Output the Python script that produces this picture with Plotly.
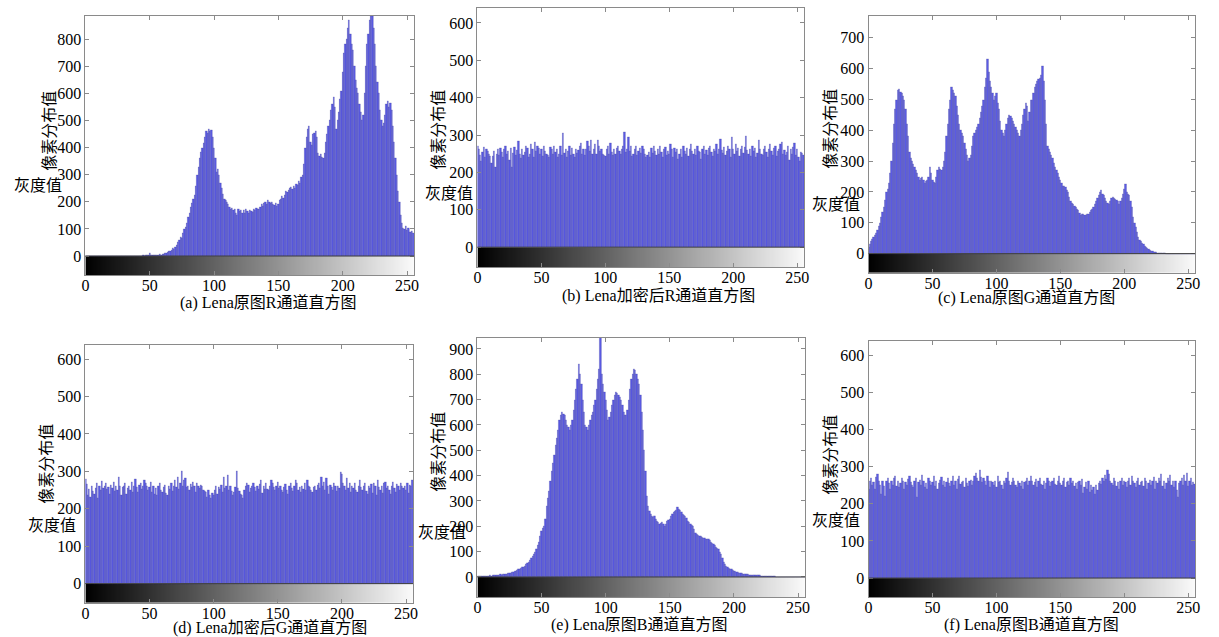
import plotly.graph_objects as go

W, H = 1219, 637

gray_levels = list(range(256))
x_tick_vals = [0, 50, 100, 150, 200, 250]

# (a) original R channel histogram
r_orig = [
    0, 0, 0, 0, 0, 0, 0, 0, 0, 0, 0, 0, 0, 0, 0, 0,
    0, 0, 0, 0, 0, 0, 0, 0, 0, 0, 0, 0, 0, 0, 0, 0,
    0, 0, 0, 0, 0, 1, 0, 0, 1, 0, 1, 1, 0, 2, 1, 2,
    3, 5, 12, 4, 3, 2, 3, 4, 5, 4, 6, 5, 7, 8, 10, 12,
    15, 18, 20, 24, 28, 26, 35, 42, 50, 60, 70, 66, 85, 98, 108, 120,
    145, 160, 180, 195, 210, 225, 260, 300, 330, 360, 385, 400, 415, 440, 460, 455,
    468, 462, 465, 440, 400, 360, 310, 320, 300, 270, 250, 230, 210, 205, 200, 190,
    180, 175, 178, 170, 175, 160, 150, 172, 165, 170, 160, 168, 158, 172, 165, 160,
    170, 165, 162, 175, 168, 178, 172, 175, 180, 190, 185, 195, 200, 192, 205, 198,
    195, 200, 190, 188, 195, 185, 190, 205, 210, 220, 215, 225, 240, 235, 245, 250,
    255, 248, 260, 250, 265, 262, 275, 270, 290, 300, 340, 400, 440, 470, 480, 420,
    410, 450, 455, 460, 440, 380, 370, 375, 365, 360, 380, 420, 450, 480, 500, 540,
    560, 585, 550, 470, 500, 530, 580, 610, 680, 750, 780, 800, 840, 870, 820, 780,
    760, 700, 650, 620, 600, 560, 530, 500, 520, 600, 700, 780, 820, 870, 885, 885,
    840, 780, 700, 640, 600, 540, 500, 480, 490, 520, 560, 570, 550, 565, 540, 480,
    420, 360, 300, 240, 200, 150, 120, 105, 100, 110, 95, 105, 90, 88, 92, 85,
]

# (b) encrypted R channel histogram
r_enc = [
    270, 262, 248, 230, 255, 268, 240, 262, 258, 250, 245, 226, 244, 258, 215, 250,
    262, 248, 266, 255, 240, 262, 270, 250, 258, 232, 266, 214, 252, 268, 246, 260,
    284, 250, 238, 262, 248, 256, 272, 266, 240, 250, 276, 262, 240, 282, 258, 270,
    266, 250, 262, 244, 270, 258, 250, 246, 240, 268, 262, 250, 272, 256, 264, 242,
    250, 270, 248, 305, 252, 262, 240, 258, 270, 246, 266, 250, 240, 262, 252, 260,
    272, 280, 250, 264, 246, 262, 284, 270, 258, 286, 250, 262, 276, 250, 286, 272,
    258, 264, 250, 248, 244, 262, 270, 250, 278, 256, 248, 264, 250, 266, 272, 258,
    250, 262, 270, 308, 254, 262, 296, 258, 272, 244, 250, 262, 270, 246, 258, 266,
    252, 270, 264, 250, 242, 248, 256, 240, 266, 252, 270, 258, 246, 262, 250, 272,
    256, 240, 262, 268, 248, 258, 250, 276, 262, 240, 266, 254, 262, 236, 250, 264,
    242, 270, 258, 250, 266, 244, 262, 276, 258, 250, 264, 246, 270, 258, 254, 236,
    262, 272, 250, 260, 248, 266, 270, 254, 244, 262, 258, 276, 250, 262, 290, 260,
    252, 268, 248, 258, 270, 262, 240, 296, 264, 250, 276, 258, 266, 244, 262, 270,
    252, 268, 298, 260, 250, 262, 244, 270, 258, 266, 240, 252, 288, 262, 250, 246,
    262, 270, 254, 240, 262, 276, 258, 248, 266, 270, 244, 258, 264, 276, 282, 250,
    260, 248, 256, 270, 232, 262, 250, 268, 280, 246, 262, 240, 230, 256, 252, 246,
]

# (c) original G channel histogram
g_orig = [
    20, 30, 40, 48, 55, 60, 68, 75, 88, 100, 118, 135, 150, 175, 200, 210,
    230, 260, 300, 360, 420, 470, 500, 530, 535, 525, 520, 510, 500, 470, 420, 380,
    330, 310, 300, 290, 280, 270, 260, 250, 240, 245, 250, 240, 230, 235, 240, 250,
    280, 260, 240, 232, 230, 250, 270, 280, 275, 270, 280, 300, 330, 380, 420, 470,
    500, 540, 530, 520, 510, 480, 450, 420, 400, 390, 380, 360, 340, 320, 300, 310,
    320, 350, 380, 390, 400, 410, 420, 440, 460, 480, 500, 540, 570, 630, 590, 560,
    540, 520, 500, 510, 520, 490, 470, 430, 400, 390, 380, 400, 420, 440, 450, 445,
    440, 430, 420, 410, 400, 390, 380, 400, 420, 450, 470, 490, 480, 430, 460, 500,
    500, 520, 540, 550, 560, 565, 570, 580, 610, 560, 500, 420, 350, 340, 330, 320,
    310, 295, 280, 270, 260, 250, 240, 230, 220, 218, 215, 205, 200, 185, 170, 165,
    160, 155, 150, 145, 140, 132, 125, 128, 130, 126, 125, 128, 130, 135, 140, 145,
    150, 160, 170, 180, 190, 200, 205, 195, 190, 180, 170, 165, 160, 170, 180, 185,
    180, 178, 175, 170, 160, 170, 180, 195, 210, 225, 200, 195, 190, 170, 150, 120,
    100, 85, 70, 55, 45, 40, 35, 30, 25, 22, 18, 15, 12, 10, 8, 6,
    5, 4, 3, 3, 2, 2, 1, 1, 1, 0, 0, 0, 0, 0, 0, 0,
    0, 0, 0, 0, 0, 0, 0, 0, 0, 0, 0, 0, 0, 0, 0, 0,
]

# (d) encrypted G channel histogram
g_enc = [
    280, 265, 238, 252, 232, 262, 248, 240, 255, 270, 228, 262, 250, 274, 256, 262,
    268, 252, 258, 240, 264, 256, 272, 248, 262, 250, 286, 260, 236, 258, 262, 270,
    240, 256, 262, 250, 272, 246, 262, 280, 258, 244, 264, 270, 252, 260, 276, 270,
    262, 250, 258, 272, 244, 262, 240, 256, 238, 262, 270, 250, 246, 258, 264, 242,
    238, 262, 254, 270, 248, 262, 276, 258, 284, 252, 270, 300, 262, 276, 282, 258,
    262, 250, 266, 258, 272, 262, 244, 268, 262, 256, 264, 260, 250, 248, 244, 232,
    250, 238, 230, 242, 236, 250, 262, 240, 258, 252, 264, 244, 284, 256, 262, 290,
    250, 262, 248, 236, 244, 258, 302, 256, 248, 240, 236, 230, 250, 262, 270, 264,
    244, 256, 262, 270, 258, 248, 262, 252, 266, 276, 242, 262, 252, 268, 254, 250,
    262, 278, 270, 258, 250, 262, 272, 256, 262, 250, 244, 258, 266, 250, 240, 262,
    270, 256, 248, 262, 276, 268, 250, 258, 244, 262, 254, 268, 250, 276, 262, 258,
    250, 244, 258, 262, 250, 264, 268, 256, 286, 262, 272, 250, 282, 262, 240, 264,
    258, 250, 270, 262, 248, 262, 256, 298, 292, 270, 262, 250, 282, 256, 270, 244,
    262, 256, 270, 250, 244, 262, 278, 258, 250, 262, 270, 248, 240, 262, 256, 266,
    242, 270, 262, 236, 276, 258, 250, 262, 242, 270, 272, 256, 262, 250, 240, 262,
    272, 256, 244, 266, 260, 250, 270, 262, 256, 262, 250, 270, 242, 264, 262, 278,
]

# (e) original B channel histogram
b_orig = [
    2, 3, 2, 3, 4, 3, 4, 5, 4, 5, 6, 5, 6, 7, 6, 8,
    8, 9, 10, 9, 10, 12, 11, 13, 14, 15, 16, 18, 20, 22, 25, 28,
    30, 32, 35, 38, 40, 45, 50, 55, 60, 68, 75, 82, 90, 100, 110, 125,
    140, 160, 180, 195, 200, 230, 280, 310, 340, 380, 420, 450, 480, 520, 550, 580,
    620, 640, 650, 645, 640, 620, 600, 590, 580, 600, 620, 660, 700, 740, 780, 840,
    800, 760, 700, 650, 600, 590, 580, 600, 620, 640, 650, 680, 700, 740, 780, 820,
    945, 800, 760, 730, 700, 660, 620, 630, 650, 680, 700, 720, 730, 725, 720, 710,
    700, 680, 650, 640, 640, 660, 700, 740, 780, 800, 820, 815, 800, 780, 760, 720,
    650, 580, 500, 420, 320, 280, 260, 250, 240, 235, 240, 230, 220, 215, 210, 212,
    215, 208, 200, 210, 220, 225, 230, 240, 250, 255, 260, 265, 275, 270, 265, 258,
    250, 245, 240, 232, 220, 215, 210, 205, 200, 190, 175, 170, 165, 162, 160, 158,
    155, 152, 150, 150, 150, 145, 140, 135, 130, 125, 120, 115, 110, 100, 90, 75,
    60, 52, 45, 40, 35, 32, 30, 28, 25, 22, 20, 18, 17, 15, 14, 13,
    12, 11, 10, 10, 9, 9, 8, 8, 7, 7, 6, 6, 6, 5, 5, 5,
    4, 4, 4, 3, 3, 3, 2, 2, 2, 1, 1, 1, 1, 0, 0, 0,
    0, 0, 0, 0, 0, 0, 0, 0, 0, 0, 0, 0, 0, 0, 0, 0,
]

# (f) encrypted B channel histogram
b_enc = [
    240, 262, 268, 250, 258, 240, 272, 280, 262, 250, 226, 262, 248, 220, 262, 270,
    256, 240, 262, 250, 268, 276, 248, 262, 244, 256, 270, 262, 240, 258, 250, 266,
    276, 258, 250, 244, 262, 270, 218, 258, 264, 250, 278, 262, 246, 256, 240, 270,
    262, 250, 258, 276, 248, 262, 240, 256, 264, 272, 250, 262, 246, 258, 270, 256,
    248, 262, 276, 250, 262, 240, 266, 276, 252, 258, 262, 244, 270, 256, 248, 262,
    264, 250, 262, 276, 284, 270, 262, 290, 272, 258, 268, 262, 250, 276, 262, 244,
    262, 258, 250, 262, 244, 276, 258, 262, 250, 240, 262, 256, 270, 286, 262, 250,
    258, 270, 262, 250, 244, 262, 256, 248, 262, 240, 258, 262, 270, 250, 262, 274,
    262, 250, 258, 266, 244, 262, 270, 254, 250, 262, 240, 256, 270, 262, 248, 258,
    262, 270, 254, 250, 262, 274, 256, 250, 262, 268, 244, 258, 262, 250, 270, 256,
    262, 248, 256, 240, 258, 262, 250, 266, 230, 246, 258, 240, 262, 232, 250, 238,
    244, 226, 250, 238, 256, 262, 252, 270, 262, 278, 266, 292, 280, 262, 256, 250,
    268, 262, 248, 258, 240, 262, 270, 250, 262, 258, 244, 262, 268, 250, 276, 262,
    256, 244, 262, 270, 250, 258, 262, 248, 270, 262, 240, 256, 264, 250, 262, 272,
    240, 262, 256, 270, 262, 280, 248, 262, 240, 256, 270, 262, 278, 250, 262, 244,
    262, 236, 218, 256, 262, 270, 250, 278, 262, 282, 248, 262, 270, 250, 258, 252,
]

captions = [
    "(a) Lena原图R通道直方图", "(b) Lena加密后R通道直方图", "(c) Lena原图G通道直方图",
    "(d) Lena加密后G通道直方图", "(e) Lena原图B通道直方图", "(f) Lena原图B通道直方图",
]
series = [r_orig, r_enc, g_orig, g_enc, b_orig, b_enc]
y_top_tick = [800, 600, 700, 600, 900, 600]
y_label = "像素分布值"
x_label = "灰度值"

for s in series:
    assert len(s) == 256, len(s)

# layout geometry in pixels: (left, right, top, bottom), y-range, label positions
geom = [
    dict(box=(82, 413, 16, 275), yr=(-70, 885), yl=(45, 131), xl=(34, 185), cap=(266, 303)),
    dict(box=(477, 806, 8, 267), yr=(-53, 640), yl=(437, 130), xl=(448, 193), cap=(659, 296)),
    dict(box=(871, 1200, 16, 273), yr=(-63, 771), yl=(832, 129), xl=(838, 204), cap=(1030, 298)),
    dict(box=(82, 412, 345, 603), yr=(-52, 638), yl=(42, 464), xl=(48, 525), cap=(268, 628)),
    dict(box=(477, 807, 338, 597), yr=(-79, 943), yl=(437, 452), xl=(441, 532), cap=(640, 625)),
    dict(box=(871, 1200, 341, 597), yr=(-51, 638), yl=(832, 455), xl=(838, 520), cap=(1035, 625)),
]

serif = "Liberation Serif, Times New Roman, serif"
cjk = "Liberation Serif, Noto Sans CJK SC, serif"
frame = "#8a8a8a"

fig = go.Figure()
annotations = []
shapes = []
layout_axes = {}

for i, (vals, g, cap, ytop) in enumerate(zip(series, geom, captions, y_top_tick), start=1):
    xa = "x" if i == 1 else f"x{i}"
    ya = "y" if i == 1 else f"y{i}"
    l, r, t, b = g["box"]
    ymin, ymax = g["yr"]
    # gray gradient strip below zero
    fig.add_trace(go.Heatmap(
        x=list(range(257)), y=[ymin, 0], z=[gray_levels],
        colorscale=[[0, "rgb(0,0,0)"], [1, "rgb(250,250,250)"]],
        showscale=False, xaxis=xa, yaxis=ya, hoverinfo="skip",
    ))
    fig.add_trace(go.Bar(
        x=gray_levels, y=vals, width=1,
        marker=dict(color="rgb(92,92,228)", line=dict(width=0.2, color="rgb(30,30,120)")),
        xaxis=xa, yaxis=ya, showlegend=False,
    ))
    yt = list(range(0, ytop + 1, 100))
    layout_axes[f"xaxis{'' if i == 1 else i}"] = dict(
        domain=[l / W, r / W], anchor=ya, range=[0, 255.4],
        tickvals=x_tick_vals, ticktext=[str(v) for v in x_tick_vals],
        showline=True, mirror="ticks", linecolor=frame, linewidth=1,
        ticks="inside", ticklen=4, tickcolor=frame,
        showgrid=False, zeroline=False, ticklabelstandoff=-4,
        tickfont=dict(family=serif, size=16, color="black"),
    )
    layout_axes[f"yaxis{'' if i == 1 else i}"] = dict(
        domain=[1 - b / H, 1 - t / H], anchor=xa, range=[ymin, ymax],
        tickvals=yt, ticktext=[str(v) for v in yt],
        showline=True, mirror="ticks", linecolor=frame, linewidth=1,
        ticks="inside", ticklen=4, tickcolor=frame,
        showgrid=False, zeroline=False,
        tickfont=dict(family=serif, size=16, color="black"),
    )
    shapes.append(dict(type="line", xref=f"{xa} domain", yref=ya,
                       x0=0, x1=1, y0=0, y1=0, line=dict(color="#444", width=1)))
    common = dict(xref="paper", yref="paper", showarrow=False,
                  xanchor="center", yanchor="middle",
                  font=dict(family=cjk, size=16, color="black"))
    annotations.append(dict(text=y_label, textangle=-90,
                            x=g["yl"][0] / W, y=1 - g["yl"][1] / H, **common))
    annotations.append(dict(text=x_label, x=g["xl"][0] / W, y=1 - g["xl"][1] / H, **common))
    annotations.append(dict(text=cap, x=g["cap"][0] / W, y=1 - g["cap"][1] / H, **common))

fig.update_layout(
    width=W, height=H, autosize=False,
    margin=dict(l=0, r=0, t=0, b=0),
    paper_bgcolor="white", plot_bgcolor="white",
    bargap=0, showlegend=False,
    annotations=annotations, shapes=shapes,
    **layout_axes,
)

fig.write_html(
    "out.html",
    config={"displayModeBar": False},
    post_script="document.body.style.margin='0';document.body.style.overflow='hidden';",
)
